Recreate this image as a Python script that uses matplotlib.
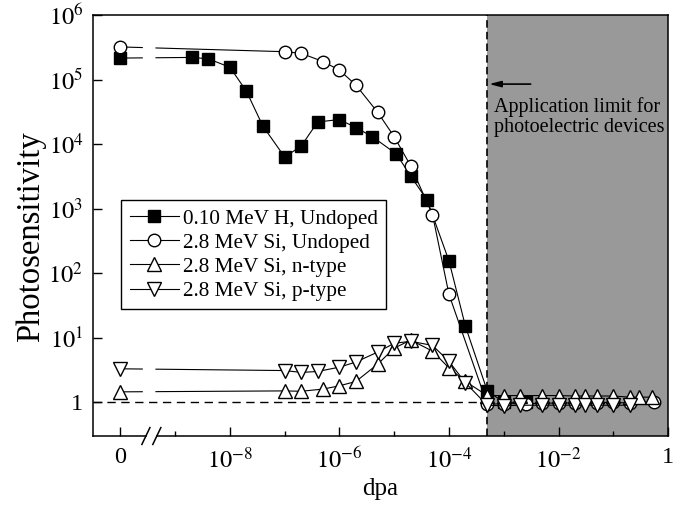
import numpy as np
import matplotlib
matplotlib.use("Agg")
import matplotlib.pyplot as plt
from matplotlib.ticker import FixedLocator, FixedFormatter, NullLocator

plt.rcParams['font.family'] = 'Liberation Serif'
plt.rcParams['mathtext.fontset'] = 'stix'

ZERO_POS = 1e-10      # unirradiated samples (dpa = 0) are put here on the log axis
LIMIT_DPA = 5e-4      # application limit
XMIN, XMAX = 10 ** -10.5, 1.0
YMIN, YMAX = 0.3, 1e6

# 0.10 MeV H, undoped
h_dpa = [0, 2e-9, 4e-9, 1e-8, 2e-8, 4e-8, 1e-7, 2e-7, 4e-7, 1e-6, 2e-6, 4e-6,
         1.1e-5, 2e-5, 4e-5, 1e-4, 2e-4, 5e-4, 1e-3, 2.5e-3]
h_ps = [2.15e5, 2.2e5, 2.1e5, 1.55e5, 6.6e4, 1.9e4, 6.3e3, 9.3e3, 2.2e4, 2.4e4,
        1.8e4, 1.3e4, 7e3, 3.2e3, 1.35e3, 155, 15, 1.5, 1.0, 1.0]

# 2.8 MeV Si, undoped
si_dpa = [0, 1e-7, 2e-7, 5e-7, 1e-6, 2e-6, 5e-6, 1e-5, 2e-5, 5e-5, 1e-4,
          5e-4, 1e-3, 2.5e-3, 5e-3, 1e-2, 2e-2, 5e-2, 0.1, 0.2, 0.55]
si_ps = [3.2e5, 2.7e5, 2.55e5, 1.9e5, 1.4e5, 8.2e4, 3.1e4, 1.3e4, 4.6e3, 810, 47,
         0.93, 0.95, 0.95, 0.97, 0.97, 0.98, 0.98, 1.0, 0.97, 1.02]

# 2.8 MeV Si, n-type
n_dpa = [0, 1e-7, 2e-7, 5e-7, 1e-6, 2e-6, 5e-6, 1e-5, 2e-5, 5e-5, 1e-4, 2e-4,
         5e-4, 1e-3, 2e-3, 5e-3, 1e-2, 2e-2, 3e-2, 5e-2, 0.1, 0.2, 0.3, 0.5]
n_ps = [1.45, 1.5, 1.48, 1.6, 1.8, 2.1, 3.9, 6.9, 9.2, 6.2, 3.4, 2.1,
        1.27, 1.27, 1.27, 1.27, 1.27, 1.25, 1.25, 1.25, 1.25, 1.2, 1.2, 1.2]

# 2.8 MeV Si, p-type
p_dpa = [0, 1e-7, 2e-7, 4e-7, 1e-6, 2e-6, 5e-6, 1e-5, 2e-5, 5e-5, 1e-4, 2e-4,
         5e-4, 1e-3, 2e-3, 5e-3, 1e-2, 2e-2, 3e-2, 5e-2, 0.1, 0.2]
p_ps = [3.3, 3.1, 2.9, 3.0, 3.5, 4.2, 6.0, 8.2, 8.8, 7.6, 4.3, 2.0,
        0.9, 0.88, 0.9, 0.9, 0.9, 0.9, 0.9, 0.9, 0.9, 0.9]

series = [
    (h_dpa, h_ps, 's', 'k', 8.0, '0.10 MeV H, Undoped'),
    (si_dpa, si_ps, 'o', 'white', 9.0, '2.8 MeV Si, Undoped'),
    (n_dpa, n_ps, '^', 'white', 9.5, '2.8 MeV Si, n-type'),
    (p_dpa, p_ps, 'v', 'white', 9.5, '2.8 MeV Si, p-type'),
]

# the segment from dpa = 0 to the first dose is broken where the axis is cut
GAP_LO, GAP_HI = 10 ** -9.6, 10 ** -9.35


def loglog_interp(x, xa, ya, xb, yb):
    t = (np.log10(x) - np.log10(xa)) / (np.log10(xb) - np.log10(xa))
    return 10 ** (np.log10(ya) + t * (np.log10(yb) - np.log10(ya)))


fig = plt.figure(figsize=(6.95, 5.08), dpi=100)
ax = fig.add_axes([0.1338, 0.1417, 0.8274, 0.8288])

ax.axvspan(LIMIT_DPA, XMAX, color='#999999', lw=0, zorder=0)
ax.axvline(LIMIT_DPA, color='k', lw=1.2, ls=(0, (4.5, 2.5)), zorder=1)
ax.hlines(1, XMIN, LIMIT_DPA, colors='k', lw=1.0, linestyles=(0, (6, 4)), zorder=1)

for dpa, ps, mk, fc, ms, label in series:
    x1, y1 = dpa[1], ps[1]
    ya = loglog_interp(GAP_LO, ZERO_POS, ps[0], x1, y1)
    yb = loglog_interp(GAP_HI, ZERO_POS, ps[0], x1, y1)
    xs = [ZERO_POS, GAP_LO, np.nan, GAP_HI] + list(dpa[1:])
    ys = [ps[0], ya, np.nan, yb] + list(ps[1:])
    marks = [0] + list(range(4, len(xs)))
    ax.plot(xs, ys, color='k', lw=0.8, marker=mk, markersize=ms,
            markerfacecolor=fc, markeredgecolor='k', markeredgewidth=1.0,
            markevery=marks, label=label, zorder=3)

ax.set_xscale('log')
ax.set_yscale('log')
ax.set_xlim(XMIN, XMAX)
ax.set_ylim(YMIN, YMAX)

ax.xaxis.set_major_locator(FixedLocator([ZERO_POS, 1e-8, 1e-6, 1e-4, 1e-2, 1]))
ax.xaxis.set_major_formatter(FixedFormatter(
    ['0', r'$10^{-8}$', r'$10^{-6}$', r'$10^{-4}$', r'$10^{-2}$', '1']))
ax.xaxis.set_minor_locator(FixedLocator([1e-9, 1e-7, 1e-5, 1e-3, 1e-1]))
ax.xaxis.set_minor_formatter(FixedFormatter([''] * 5))

ax.yaxis.set_major_locator(FixedLocator([1, 1e1, 1e2, 1e3, 1e4, 1e5, 1e6]))
ax.yaxis.set_major_formatter(FixedFormatter(
    ['1', r'$10^{1}$', r'$10^{2}$', r'$10^{3}$', r'$10^{4}$', r'$10^{5}$', r'$10^{6}$']))
ax.yaxis.set_minor_locator(NullLocator())

ax.tick_params(which='both', direction='in', width=1.0, labelsize=17.5,
               top=False, right=False)
ax.tick_params(which='major', length=6.5)
ax.tick_params(which='minor', length=3.5)
ax.tick_params(axis='x', pad=8)
ax.tick_params(axis='y', pad=7)

for s in ax.spines.values():
    s.set_linewidth(1.1)

# cut the bottom axis between 0 and the first decade
ax.spines['bottom'].set_visible(False)
kw = dict(transform=ax.transAxes, color='k', lw=1.1, clip_on=False, zorder=5)
ax.plot([0, 0.092], [0, 0], **kw)
ax.plot([0.111, 1], [0, 0], **kw)
for cx in (0.092, 0.111):
    ax.plot([cx - 0.007, cx + 0.007], [-0.02, 0.02], **kw)

ax.set_xlabel('dpa', fontsize=18, labelpad=4)
ax.set_ylabel('Photosensitivity', fontsize=23.5)
ax.yaxis.set_label_coords(-0.082, 0.473)

ax.annotate('', xy=(LIMIT_DPA * 1.08, 8.5e4), xytext=(3.1e-3, 8.5e4),
            arrowprops=dict(arrowstyle='-|>,head_length=0.7,head_width=0.18',
                            color='k', lw=1.2, shrinkA=0, shrinkB=0))
ax.text(0.697, 0.758, 'Application limit for\nphotoelectric devices',
        transform=ax.transAxes, ha='left', va='center', fontsize=14.5,
        linespacing=1.1)

leg = ax.legend(loc='upper left', bbox_to_anchor=(0.049, 0.56), fontsize=15.3,
                frameon=True, fancybox=False, framealpha=1, edgecolor='k',
                handlelength=2.3, handletextpad=0.2, labelspacing=0.2,
                borderpad=0.4, borderaxespad=0)
leg.get_frame().set_linewidth(1.0)

fig.savefig('out.png', dpi=100)
